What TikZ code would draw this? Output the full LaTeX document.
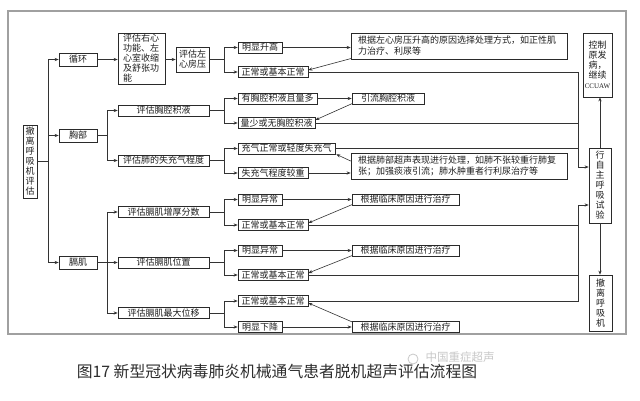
\documentclass[tikz,border=0pt]{standalone}
\usepackage{fontspec}
\setmainfont{Noto Sans CJK SC}
\newfontfamily\latinserif{Liberation Serif}
\usetikzlibrary{arrows.meta,calc}
\definecolor{boxc}{HTML}{2A2A2A}
\definecolor{linec}{HTML}{333333}
\definecolor{txtc}{HTML}{1E1E1E}
\definecolor{framec}{HTML}{A0A0A0}
\definecolor{capc}{HTML}{2E2E2E}
\definecolor{wmc}{HTML}{C8C8C8}
\begin{document}
\begin{tikzpicture}[x=1pt,y=-1pt,
  box/.style={draw=boxc, line width=0.7pt, inner sep=0pt, text=txtc,
              font=\fontsize{9}{10}\selectfont},
  ln/.style={draw=linec, line width=0.6pt},
  arr/.style={ln, -{Stealth[length=4pt,width=3.2pt]}},
  lvone/.style={box, minimum width=38, minimum height=13},
  evalbox/.style={box, minimum width=91, minimum height=11},
  small/.style={box, minimum height=11},
  treat/.style={box, minimum width=216, minimum height=26, text width=202pt, align=left,
                font=\fontsize{9}{11}\selectfont},
  vert/.style={box, align=center},
]
\useasboundingbox (0,0) rectangle (640,401);
\fill[white] (0,0) rectangle (640,401);
\draw[framec, line width=1.2pt] (8,11) rectangle (626,334);

% column coordinates
\coordinate (T1) at (48,0);
\coordinate (T2) at (107,0);
\coordinate (T3) at (224,0);
\coordinate (C) at (578,0);
\coordinate (cu) at (578,167);
\coordinate (cl) at (578,205);

% root
\node[vert, minimum width=14, minimum height=73] (root) at (30,161.5) {撤\\离\\呼\\吸\\机\\评\\估};

% level one
\node[lvone] (xh) at (78,59.5) {循环};
\node[lvone] (xb) at (78,135.5) {胸部};
\node[lvone] (gj) at (78,262.5) {膈肌};

% circulation
\node[box, minimum width=47, minimum height=51, text width=37pt, align=left] (rv) at (141.5,58.5)
  {评估右心\\功能、左\\心室收缩\\及舒张功\\能};
\node[box, minimum width=33, minimum height=25, align=center] (la) at (192.5,59.5) {评估左\\心房压};
\node[small, minimum width=44] (a1) at (260,47.5) {明显升高};
\node[small, minimum width=70] (a2) at (273,72) {正常或基本正常};
\node[treat] (at) at (459,46) {根据左心房压升高的原因选择处理方式，如正性肌\\力治疗、利尿等};

% chest
\node[evalbox] (pe) at (163.5,110.5) {评估胸腔积液};
\node[evalbox] (ae) at (163.5,160.5) {评估肺的失充气程度};
\node[small, minimum width=79] (b1) at (277.5,98.5) {有胸腔积液且量多};
\node[small, minimum width=77] (b2) at (276.5,123) {量少或无胸腔积液};
\node[small, minimum width=72] (bt) at (388,98.5) {引流胸腔积液};
\node[small, minimum width=97] (c1) at (286.5,148.5) {充气正常或轻度失充气};
\node[small, minimum width=70] (c2) at (273,173) {失充气程度较重};
\node[treat] (ct) at (459,166) {根据肺部超声表现进行处理，如肺不张较重行肺复\\张；加强痰液引流；肺水肿重者行利尿治疗等};

% diaphragm
\node[evalbox] (tf) at (163.5,212) {评估膈肌增厚分数};
\node[evalbox] (dp) at (163.5,262.5) {评估膈肌位置};
\node[evalbox] (dm) at (163.5,313) {评估膈肌最大位移};
\node[small, minimum width=44] (d1) at (260,199.5) {明显异常};
\node[small, minimum width=70] (d2) at (273,225) {正常或基本正常};
\node[small, minimum width=107] (dt) at (405.5,199.5) {根据临床原因进行治疗};
\node[small, minimum width=44] (e1) at (260,250.5) {明显异常};
\node[small, minimum width=70] (e2) at (273,275) {正常或基本正常};
\node[small, minimum width=107] (et) at (405.5,250.5) {根据临床原因进行治疗};
\node[small, minimum width=70] (f1) at (273,301) {正常或基本正常};
\node[small, minimum width=44] (f2) at (260,327) {明显下降};
\node[small, minimum width=107] (ft) at (405.5,327) {根据临床原因进行治疗};

% right column
\node[vert, minimum width=29, minimum height=64] (ctl) at (597.5,65)
  {控制\\原发\\病，\\继续\\{\latinserif\fontsize{7}{10}\selectfont CCUAW}};
\node[vert, minimum width=22, minimum height=75] (sb) at (600,185.5) {行\\自\\主\\呼\\吸\\试\\验};
\node[vert, minimum width=23, minimum height=56] (wd) at (600.5,303) {撤\\离\\呼\\吸\\机};

% trunk
\draw[ln] (root.east) -- (root.east -| T1);
\draw[ln] (xh.west -| T1) -- (gj.west -| T1);
\draw[arr] (xh.west -| T1) -- (xh.west);
\draw[arr] (xb.west -| T1) -- (xb.west);
\draw[arr] (gj.west -| T1) -- (gj.west);

% circulation connectors
\draw[arr] (xh.east) -- (xh.east -| rv.west);
\draw[arr] (la.west -| rv.east) -- (la.west);
\draw[ln] (la.east) -- (la.east -| T3);
\draw[ln] (a1.west -| T3) -- (a2.west -| T3);
\draw[arr] (a1.west -| T3) -- (a1.west);
\draw[arr] (a2.west -| T3) -- (a2.west);
\draw[arr] (a1.east) -- (a1.east -| at.west);
\draw[arr] ($(at.south west)+(1,-1)$) -- ($(a2.east)+(0,-2)$);
\draw[ln] (a2.east) -- (a2.east -| C) -- (cu);
\draw[arr] (cu) -- (cu -| sb.west);

% chest connectors
\draw[ln] (xb.east) -- (xb.east -| T2);
\draw[ln] (pe.west -| T2) -- (ae.west -| T2);
\draw[arr] (pe.west -| T2) -- (pe.west);
\draw[arr] (ae.west -| T2) -- (ae.west);
\draw[ln] (pe.east) -- (pe.east -| T3);
\draw[ln] (b1.west -| T3) -- (b2.west -| T3);
\draw[arr] (b1.west -| T3) -- (b1.west);
\draw[arr] (b2.west -| T3) -- (b2.west);
\draw[arr] (b1.east) -- (b1.east -| bt.west);
\draw[arr] ($(bt.south west)+(1,-1)$) -- ($(b2.east)+(0,-3)$);
\draw[ln] (b2.east) -- (b2.east -| C);
\draw[ln] (ae.east) -- (ae.east -| T3);
\draw[ln] (c1.west -| T3) -- (c2.west -| T3);
\draw[arr] (c1.west -| T3) -- (c1.west);
\draw[arr] (c2.west -| T3) -- (c2.west);
\draw[arr] (c2.east) -- (c2.east -| ct.west);
\draw[arr] ($(ct.west)+(0,-5)$) -- ($(c1.south east)+(1,0)$);
\draw[ln] (c1.east) -- (c1.east -| C);

% diaphragm connectors
\draw[ln] (gj.east) -- (gj.east -| T2);
\draw[ln] (tf.west -| T2) -- (dm.west -| T2);
\draw[arr] (tf.west -| T2) -- (tf.west);
\draw[arr] (dp.west -| T2) -- (dp.west);
\draw[arr] (dm.west -| T2) -- (dm.west);

\draw[ln] (tf.east) -- (tf.east -| T3);
\draw[ln] (d1.west -| T3) -- (d2.west -| T3);
\draw[arr] (d1.west -| T3) -- (d1.west);
\draw[arr] (d2.west -| T3) -- (d2.west);
\draw[arr] (d1.east) -- (d1.east -| dt.west);
\draw[arr] ($(dt.south west)+(1,-1)$) -- ($(d2.east)+(0,-2)$);
\draw[ln] (d2.east) -- (d2.east -| C);

\draw[ln] (dp.east) -- (dp.east -| T3);
\draw[ln] (e1.west -| T3) -- (e2.west -| T3);
\draw[arr] (e1.west -| T3) -- (e1.west);
\draw[arr] (e2.west -| T3) -- (e2.west);
\draw[arr] (e1.east) -- (e1.east -| et.west);
\draw[arr] ($(et.south west)+(1,-1)$) -- ($(e2.east)+(0,-2)$);
\draw[ln] (e2.east) -- (e2.east -| C);

\draw[ln] (dm.east) -- (dm.east -| T3);
\draw[ln] (f1.west -| T3) -- (f2.west -| T3);
\draw[arr] (f1.west -| T3) -- (f1.west);
\draw[arr] (f2.west -| T3) -- (f2.west);
\draw[arr] (f2.east) -- (f2.east -| ft.west);
\draw[arr] ($(ft.north west)+(1,1)$) -- ($(f1.east)+(0,2)$);
\draw[ln] (f1.east) -- (f1.east -| C) -- (cl);
\draw[arr] (cl) -- (cl -| sb.west);

% right column connectors
\draw[arr] (sb.north) -- (sb.north |- ctl.south);
\draw[arr] (sb.south) -- (sb.south |- wd.north);

% caption and watermark
\node[text=capc, font=\fontsize{15.8}{16}\selectfont] (cap) at (277,372)
  {图17 新型冠状病毒肺炎机械通气患者脱机超声评估流程图};
\draw[wmc, line width=0.8pt] (413,359) circle (5);
\node[text=wmc, font=\fontsize{11.5}{12}\selectfont, anchor=west] (wm) at (422,357) {中国重症超声};
\end{tikzpicture}
\end{document}
